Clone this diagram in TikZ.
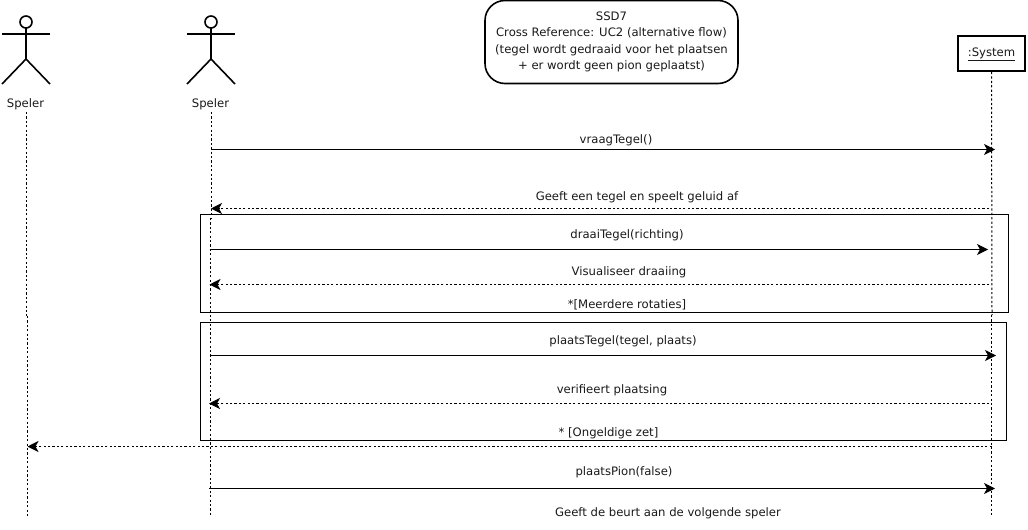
\documentclass[tikz,border=0pt]{standalone}
\usepackage{fontspec}
\setmainfont{DejaVu Sans}
\usetikzlibrary{arrows.meta}
\tikzset{
  x=1pt,y=-1pt,
  lbl/.style={inner sep=0pt,font=\fontsize{11.65}{14}\selectfont,text=black!90,yshift=-1.5pt},
  lifeline/.style={line width=1pt,dash pattern=on 2.2pt off 2.2pt},
  msg/.style={line width=1pt,-{Stealth[length=11pt,width=11pt,inset=3pt]}},
  reply/.style={line width=1pt,dash pattern=on 2.2pt off 2.2pt,-{Stealth[length=11pt,width=11pt,inset=3pt]}},
  frm/.style={draw,line width=1pt,inner sep=0pt},
  limb/.style={line width=1.6pt},
}
\begin{document}
\begin{tikzpicture}
\useasboundingbox (0,0) rectangle (1028,530);
% actors
\foreach \n/\x in {a/26,b/211}{
  \draw[limb] (\x,22) circle (6);
  \draw[limb] (\x-24,34) -- (\x+24,34);
  \draw[limb] (\x,28) -- (\x,59);
  \draw[limb] (\x-24,84) -- (\x,59) -- (\x+24,84);
}
\node[lbl] (speler1) at (25.5,102.5) {Speler};
\node[lbl] (speler2) at (210.5,102.5) {Speler};
% note
\node[draw,line width=1.6pt,rounded corners=20pt,minimum width=253pt,minimum height=83pt,inner sep=0pt] (note) at (611.5,42) {};
\node[inner sep=0pt,align=center,font=\fontsize{11.65}{16.3}\selectfont,text=black!90] (notetext) at (611.5,42) {SSD7\\Cross Reference: UC2 (alternative flow)\\(tegel wordt gedraaid voor het plaatsen\\+ er wordt geen pion geplaatst)};
% system
\node[draw,line width=2pt,minimum width=67pt,minimum height=35pt,inner sep=0pt] (sys) at (991.5,53.5) {};
\node[lbl] (systext) at (991.5,53.2) {\underline{:System}};
% frames
\node[frm,minimum width=808pt,minimum height=98pt] (f1) at (604.5,263.5) {};
\node[frm,minimum width=805.5pt,minimum height=118pt] (f2) at (603.25,381.5) {};
% lifeline coordinates
\coordinate (a0) at (26,112); \coordinate (a1) at (26,316);
\coordinate (a2) at (27.5,316); \coordinate (a3) at (27.5,517);
\coordinate (b0) at (211,112); \coordinate (b1) at (211,218);
\coordinate (b2) at (210,218); \coordinate (b3) at (210,517);
\coordinate (s1) at (992,315);
\coordinate (s2) at (991.7,315); \coordinate (s3) at (991.7,517);
\draw[lifeline] (a0) -- (a1);
\draw[lifeline] (a2) -- (a3);
\draw[lifeline] (b0) -- (b1);
\draw[lifeline] (b2) -- (b3);
\draw[lifeline] (sys.south) -- (s1);
\draw[lifeline] (s2) -- (s3);
% message ends
\coordinate (m1a) at (211,149.5); \coordinate (m1b) at (995,149.5);
\coordinate (m2a) at (989,208.5); \coordinate (m2b) at (211,208.5);
\coordinate (m3a) at (210,249.5); \coordinate (m3b) at (988,249.5);
\coordinate (m4a) at (989,284.5); \coordinate (m4b) at (209.5,284.5);
\coordinate (m5a) at (210,355.5); \coordinate (m5b) at (996,355.5);
\coordinate (m6a) at (989,403.5); \coordinate (m6b) at (209,403.5);
\coordinate (m7a) at (991.7,446.5); \coordinate (m7b) at (27.5,446.5);
\coordinate (m8a) at (209,488.5); \coordinate (m8b) at (995,488.5);
\draw[msg] (m1a) -- (m1b);
\draw[reply] (m2a) -- (m2b);
\draw[msg] (m3a) -- (m3b);
\draw[reply] (m4a) -- (m4b);
\draw[msg] (m5a) -- (m5b);
\draw[reply] (m6a) -- (m6b);
\draw[reply] (m7a) -- (m7b);
\draw[msg] (m8a) -- (m8b);
% labels
\node[lbl] (l1) at (616,138.5) {vraagTegel()};
\node[lbl] (l2) at (637,195.5) {Geeft een tegel en speelt geluid af};
\node[lbl] (l3) at (627,233.5) {draaiTegel(richting)};
\node[lbl] (l4) at (629,270.5) {Visualiseer draaiing};
\node[lbl] (l5) at (627,303) {*[Meerdere rotaties]};
\node[lbl] (l6) at (623,339.5) {plaatsTegel(tegel, plaats)};
\node[lbl] (l7) at (612,388.5) {verifieert plaatsing};
\node[lbl] (l8) at (608.5,431.5) {* [Ongeldige zet]};
\node[lbl] (l9) at (624,470.5) {plaatsPion(false)};
\node[lbl] (l10) at (668,511.5) {Geeft de beurt aan de volgende speler};
\end{tikzpicture}
\end{document}
